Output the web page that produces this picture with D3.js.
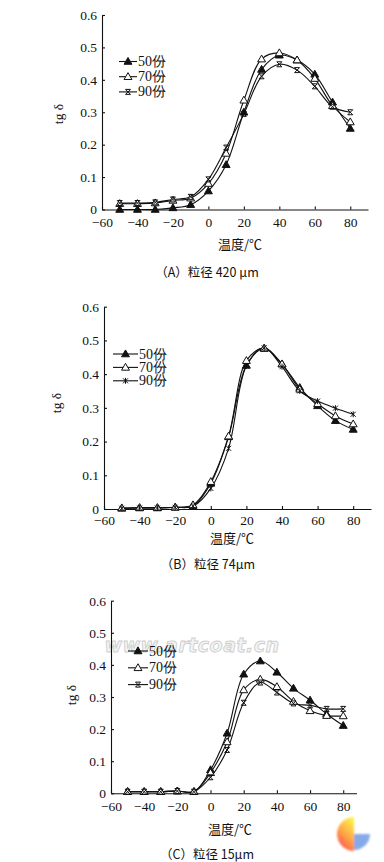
<!DOCTYPE html>
<html>
<head>
<meta charset="utf-8">
<script src="https://cdn.jsdelivr.net/npm/d3@7"></script>
<style>
  body { margin: 0; background: #fff; }
  svg { display: block; }
  .axis path, .axis line { stroke: #111; stroke-width: 1.1; }
</style>
</head>
<body>
<script>
// temperatures, shared by all three panels
var temps = [-50, -40, -30, -20, -10, 0, 10, 20, 30, 40, 50, 60, 70, 80];
var seriesNames = ["50份", "70份", "90份"];
var xTicks = [-60, -40, -20, 0, 20, 40, 60, 80];
var yTicks = [0, 0.1, 0.2, 0.3, 0.4, 0.5, 0.6];

// (A) 420 um
var a50 = [0, 0, 0, 0.005, 0.015, 0.057, 0.138, 0.30, 0.432, 0.476, 0.461, 0.417, 0.331, 0.25];
var a70 = [0.018, 0.018, 0.02, 0.028, 0.035, 0.08, 0.173, 0.337, 0.464, 0.483, 0.461, 0.404, 0.32, 0.27];
var a90 = [0.02, 0.02, 0.022, 0.031, 0.039, 0.093, 0.191, 0.295, 0.411, 0.448, 0.43, 0.38, 0.317, 0.30];

// (B) 74 um
var b50 = [0.002, 0.003, 0.003, 0.005, 0.01, 0.076, 0.214, 0.426, 0.476, 0.43, 0.36, 0.306, 0.262, 0.236];
var b70 = [0.003, 0.004, 0.004, 0.005, 0.012, 0.081, 0.216, 0.44, 0.477, 0.43, 0.355, 0.312, 0.276, 0.252];
var b90 = [0.002, 0.003, 0.003, 0.005, 0.008, 0.061, 0.18, 0.424, 0.478, 0.422, 0.35, 0.32, 0.299, 0.281];

// (C) 15 um
var c50 = [0.005, 0.005, 0.005, 0.007, 0.005, 0.073, 0.187, 0.371, 0.412, 0.377, 0.327, 0.29, 0.247, 0.211];
var c70 = [0.005, 0.005, 0.005, 0.007, 0.005, 0.064, 0.16, 0.322, 0.355, 0.332, 0.286, 0.257, 0.242, 0.241];
var c90 = [0.005, 0.005, 0.005, 0.007, 0.005, 0.05, 0.135, 0.282, 0.345, 0.314, 0.28, 0.274, 0.263, 0.263];

var panels = [
  { caption: "（A）粒径 420 μm", series: [a50, a70, a90], xDom: [-60, 90], xRange: [102, 368], yRange: [209.5, 15],
    cross: "hourglass", pad: 8, yLab: [63, 114], xLab: [240, 249], capPos: [207, 277], legend: [119, 137, 61.5, 15.2] },
  { caption: "（B）粒径 74μm", series: [b50, b70, b90], xDom: [-60, 90], xRange: [104, 371], yRange: [509, 306.7],
    cross: "star", pad: 6, yLab: [61, 403], xLab: [232, 543], capPos: [208, 569], legend: [113, 138, 354, 13.4] },
  { caption: "（C）粒径 15μm", series: [c50, c70, c90], xDom: [-60, 88], xRange: [111, 356.5], yRange: [793.3, 600.7],
    cross: "hourglass", pad: 8, yLab: [76, 695], xLab: [230, 834], capPos: [207, 859], legend: [128, 148, 651, 16.8] }
];

var serifFont = "'Liberation Serif', 'DejaVu Serif', serif";
var cjkFont = "'Noto Sans CJK SC', sans-serif";

var width = 384, height = 862;

var svg = d3.select("body").append("svg")
  .attr("width", width)
  .attr("height", height);

var defs = svg.append("defs");
var grad = defs.append("linearGradient")
  .attr("id", "logoGrad")
  .attr("x1", "0.8").attr("y1", "0")
  .attr("x2", "0.3").attr("y2", "1");
grad.append("stop").attr("offset", "0").attr("stop-color", "#fff34a");
grad.append("stop").attr("offset", "0.5").attr("stop-color", "#ffab45");
grad.append("stop").attr("offset", "1").attr("stop-color", "#ff4e4e");
defs.append("filter").attr("id", "blur")
  .append("feGaussianBlur").attr("stdDeviation", 0.8);

// marker shapes
function markerPath(kind, s) {
  if (kind === "filled" || kind === "open") {
    return d3.symbol().type(d3.symbolTriangle).size(s * s * 0.55)();
  }
  var h = s / 2;
  if (kind === "hourglass") {
    return "M" + (-h) + "," + (-h) + "H" + h + "L" + (-h) + "," + h + "H" + h + "Z";
  }
  // star / asterisk
  return "M" + (-h) + "," + (-h) + "L" + h + "," + h +
         "M" + h + "," + (-h) + "L" + (-h) + "," + h +
         "M0," + (-h - 0.5) + "V" + (h + 0.5);
}

function drawMarker(g, kind, x, y) {
  var tri = kind === "filled" || kind === "open";
  g.append("path")
    .attr("d", markerPath(kind, tri ? 7 : 5))
    .attr("transform", "translate(" + x + "," + (tri ? y + 0.5 : y) + ")")
    .attr("fill", kind === "filled" ? "#111" : (kind === "open" ? "#fff" : "none"))
    .attr("stroke", "#111")
    .attr("stroke-width", 1);
}

panels.forEach(function(p, pi) {
  var x = d3.scaleLinear().domain(p.xDom).range(p.xRange);
  var y = d3.scaleLinear().domain([0, 0.6]).range(p.yRange);
  var g = svg.append("g");

  // watermark on panel C, under the curves
  if (pi === 2) {
    g.append("text")
      .attr("x", 192).attr("y", 652)
      .attr("text-anchor", "middle")
      .style("font-family", "DejaVu Sans")
      .style("font-weight", "bold")
      .style("font-style", "italic")
      .style("font-size", "19px")
      .style("letter-spacing", "0.5px")
      .attr("fill", "#f4f4f4")
      .attr("stroke", "#cfcfcf")
      .attr("stroke-width", 0.9)
      .text("www.artcoat.cn");
  }

  var xAxis = g.append("g")
    .attr("class", "axis")
    .attr("transform", "translate(0," + y(0) + ")")
    .call(d3.axisBottom(x).tickValues(xTicks).tickSizeInner(-3).tickSizeOuter(0).tickPadding(p.pad)
      .tickFormat(d3.format("d")));

  var yAxis = g.append("g")
    .attr("class", "axis")
    .attr("transform", "translate(" + x(-60) + ",0)")
    .call(d3.axisLeft(y).tickValues(yTicks).tickSizeInner(-3).tickSizeOuter(0).tickPadding(5)
      .tickFormat(function(d) { return d === 0 ? "0" : d3.format(".1f")(d); }));

  [xAxis, yAxis].forEach(function(ax) {
    ax.attr("font-family", null).attr("font-size", null);
    ax.selectAll("text")
      .style("font-family", serifFont)
      .style("font-size", "13.5px")
      .attr("fill", "#111");
  });

  var line = d3.line()
    .x(function(d, i) { return x(temps[i]); })
    .y(function(d) { return y(d); })
    .curve(d3.curveCatmullRom.alpha(0.5));

  var kinds = ["filled", "open", p.cross];
  p.series.forEach(function(vals) {
    g.append("path")
      .datum(vals)
      .attr("d", line)
      .attr("fill", "none")
      .attr("stroke", "#111")
      .attr("stroke-width", 1.1);
  });
  p.series.forEach(function(vals, si) {
    vals.forEach(function(v, i) {
      drawMarker(g, kinds[si], x(temps[i]), y(v));
    });
  });

  // legend
  var lg = p.legend;
  seriesNames.forEach(function(name, si) {
    var ly = lg[2] + si * lg[3];
    g.append("line")
      .attr("x1", lg[0]).attr("x2", lg[1])
      .attr("y1", ly).attr("y2", ly)
      .attr("stroke", "#111").attr("stroke-width", 1.1);
    drawMarker(g, kinds[si], (lg[0] + lg[1]) / 2, ly);
    g.append("text")
      .attr("x", lg[1] + 1).attr("y", ly + 4.5)
      .style("font-family", serifFont)
      .style("font-size", "14px")
      .attr("fill", "#111")
      .text(name);
  });

  // axis titles
  g.append("text")
    .attr("transform", "translate(" + p.yLab[0] + "," + p.yLab[1] + ") rotate(-90)")
    .attr("text-anchor", "middle")
    .style("font-family", serifFont)
    .style("font-size", "13.5px")
    .attr("fill", "#111")
    .text("tg δ");

  g.append("text")
    .attr("x", p.xLab[0]).attr("y", p.xLab[1])
    .attr("text-anchor", "middle")
    .style("font-family", cjkFont)
    .style("font-size", "13px")
    .attr("fill", "#111")
    .text("温度/℃");

  g.append("text")
    .attr("x", p.capPos[0]).attr("y", p.capPos[1])
    .attr("text-anchor", "middle")
    .style("font-family", cjkFont)
    .style("font-size", "12.5px")
    .attr("fill", "#111")
    .text(p.caption);
});

// corner logo
var logo = svg.append("g").attr("transform", "translate(354,834)").attr("filter", "url(#blur)");
logo.append("path")
  .attr("d", d3.arc().innerRadius(0).outerRadius(17).startAngle(Math.PI).endAngle(2 * Math.PI)())
  .attr("fill", "url(#logoGrad)");
logo.append("path")
  .attr("d", d3.arc().innerRadius(0).outerRadius(16).startAngle(Math.PI / 2).endAngle(Math.PI)())
  .attr("fill", "#86a9ea");
</script>
</body>
</html>
